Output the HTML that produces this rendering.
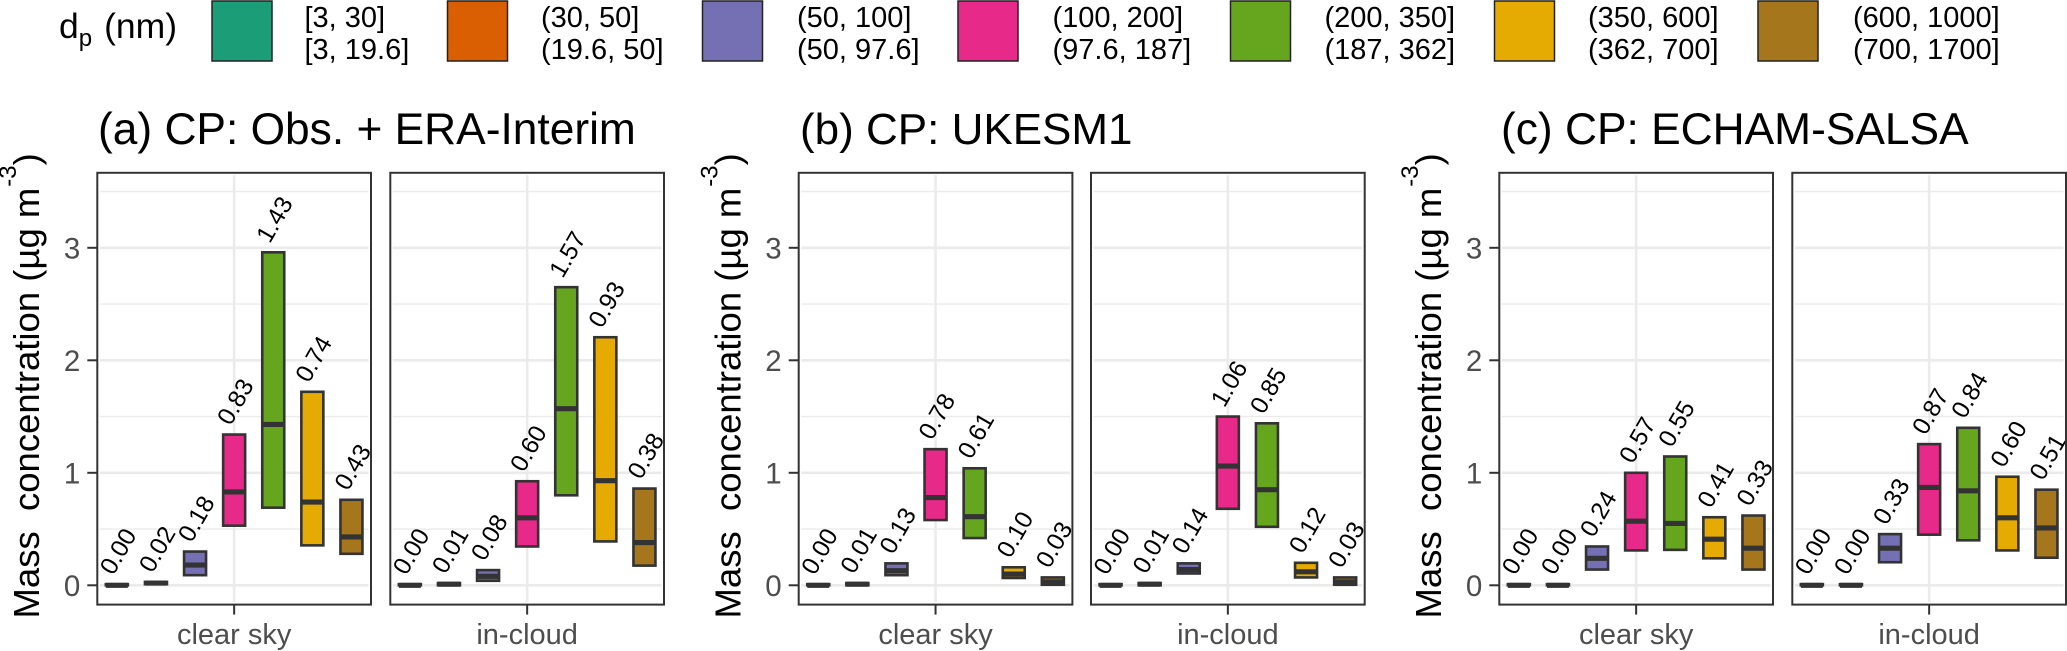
<!DOCTYPE html>
<html lang="en">
<head>
<meta charset="utf-8">
<title>Mass concentration by particle size</title>
<style>
html,body{margin:0;padding:0;background:#fff;}
svg{display:block;font-family:"Liberation Sans",Arial,sans-serif;}
</style>
</head>
<body>
<svg id="chart" xmlns="http://www.w3.org/2000/svg" width="2067" height="651" viewBox="0 0 2067 651">
  <rect width="2067" height="651" fill="#fff"/>
  <g>
    <text x="59" y="38" font-size="35.5" fill="#000">d<tspan font-size="24" dy="8">p</tspan><tspan dy="-8" dx="12">(nm)</tspan></text>
    <g id="legend-items"></g>
  </g>
  <text x="98" y="144" font-size="44.3" fill="#000">(a) CP: Obs. + ERA-Interim</text>
  <text x="800" y="144" font-size="44" fill="#000">(b) CP: UKESM1</text>
  <text x="1501" y="144" font-size="44.3" fill="#000">(c) CP: ECHAM-SALSA</text>
  <g id="plots"></g>
</svg>
<script>
const sizeBins = ['[3, 30]','(30, 50]','(50, 100]','(100, 200]','(200, 350]','(350, 600]','(600, 1000]'];
const sizeBinsModel = ['[3, 19.6]','(19.6, 50]','(50, 97.6]','(97.6, 187]','(187, 362]','(362, 700]','(700, 1700]'];
const binColors = ['#1B9E77','#D95F02','#7570B3','#E7298A','#66A61E','#E6AB02','#A6761D'];
const panelNames = ['a-clear-sky','a-in-cloud','b-clear-sky','b-in-cloud','c-clear-sky','c-in-cloud'];
const conditionLabels = ['clear sky','in-cloud','clear sky','in-cloud','clear sky','in-cloud'];
const yMajorTicks = [0,1,2,3];
const yMinorTicks = [0.5,1.5,2.5,3.5];

const medians = [
  [0.00,0.02,0.18,0.83,1.43,0.74,0.43],
  [0.00,0.01,0.08,0.60,1.57,0.93,0.38],
  [0.00,0.01,0.13,0.78,0.61,0.10,0.03],
  [0.00,0.01,0.14,1.06,0.85,0.12,0.03],
  [0.00,0.00,0.24,0.57,0.55,0.41,0.33],
  [0.00,0.00,0.33,0.87,0.84,0.60,0.51]
];
const lowerQuartiles = [
  [0.00,0.01,0.09,0.53,0.69,0.355,0.28],
  [0.00,0.00,0.04,0.345,0.80,0.39,0.175],
  [0.00,0.00,0.09,0.58,0.42,0.065,0.005],
  [0.00,0.00,0.105,0.68,0.52,0.07,0.005],
  [0.00,0.00,0.14,0.31,0.315,0.24,0.14],
  [0.00,0.00,0.205,0.45,0.40,0.31,0.245]
];
const upperQuartiles = [
  [0.01,0.03,0.30,1.34,2.96,1.72,0.76],
  [0.01,0.02,0.135,0.925,2.65,2.205,0.86],
  [0.01,0.02,0.195,1.21,1.04,0.16,0.07],
  [0.01,0.02,0.195,1.50,1.44,0.20,0.07],
  [0.01,0.01,0.345,1.00,1.145,0.605,0.62],
  [0.01,0.01,0.455,1.255,1.40,0.965,0.85]
];

const NS = 'http://www.w3.org/2000/svg';
const panelLefts = [97.3,390.3,798.7,1091,1499.3,1792.3];
const panelWidth = 273.7, panelTop = 172.8, panelBottom = 604.6;
const catStep = 39.1, boxWidth = 22;
function yScale(v){ return 585.3 - 112.5 * v; }
function xScale(p, i){ return panelLefts[p] + panelWidth / 2 + (i - 3) * catStep; }
function make(tag, attrs, parent){
  const el = document.createElementNS(NS, tag);
  for (const k in attrs) el.setAttribute(k, attrs[k]);
  parent.appendChild(el);
  return el;
}

/* legend */
const legendItems = document.getElementById('legend-items');
const swatchXs = [212,447.5,702.5,958,1230.5,1494.5,1758];
const legendTextXs = [304.5,541,797,1052.5,1324.5,1588,1853];
sizeBins.forEach(function(bin, i){
  const sw = make('rect', {x:swatchXs[i], y:1, width:60, height:60, fill:binColors[i], stroke:'#222', 'stroke-width':1.5}, legendItems);
  
  
  const t1 = make('text', {x:legendTextXs[i], y:27, 'font-size':29, fill:'#000'}, legendItems);
  t1.textContent = bin;
  
  
  const t2 = make('text', {x:legendTextXs[i], y:59, 'font-size':29, fill:'#000'}, legendItems);
  t2.textContent = sizeBinsModel[i];
  
  
});

/* panels */
const plots = document.getElementById('plots');
panelNames.forEach(function(name, p){
  const L = panelLefts[p], R = L + panelWidth, C = L + panelWidth / 2;
  const g = make('g', {}, plots);
  
  

  yMinorTicks.forEach(function(v){
    const ln = make('line', {x1:L+2.5, x2:R-2.5, y1:yScale(v), y2:yScale(v), stroke:'#ebebeb', 'stroke-width':1.3}, g);
    
    
  });
  yMajorTicks.forEach(function(v){
    const ln = make('line', {x1:L+2.5, x2:R-2.5, y1:yScale(v), y2:yScale(v), stroke:'#ebebeb', 'stroke-width':2.6}, g);
    
    
  });
  const vg = make('line', {x1:C, x2:C, y1:panelTop+2.5, y2:panelBottom-2.5, stroke:'#ebebeb', 'stroke-width':2.6}, g);
  
  

  sizeBins.forEach(function(bin, i){
    const x = xScale(p, i), yHi = yScale(upperQuartiles[p][i]), yLo = yScale(lowerQuartiles[p][i]), yMed = yScale(medians[p][i]);
    const box = make('rect', {x:x-boxWidth/2, y:yHi, width:boxWidth, height:yLo-yHi, fill:binColors[i], stroke:'#333', 'stroke-width':2.6}, g);
    
    
    const med = make('line', {x1:x-boxWidth/2, x2:x+boxWidth/2, y1:yMed, y2:yMed, stroke:'#333', 'stroke-width':5.2}, g);
    
    
  });

  sizeBins.forEach(function(bin, i){
    const x = xScale(p, i) - 3.5, y = yScale(upperQuartiles[p][i]) - 8;
    const lab = make('text', {x:x, y:y, 'font-size':24.5, fill:'#000', transform:'rotate(-60 ' + x + ' ' + y + ')'}, g);
    lab.textContent = medians[p][i].toFixed(2);
    
    
  });

  const border = make('rect', {x:L, y:panelTop, width:panelWidth, height:panelBottom-panelTop, fill:'none', stroke:'#333', 'stroke-width':2}, g);
  
  

  const tick = make('line', {x1:C, x2:C, y1:panelBottom, y2:panelBottom+10, stroke:'#333', 'stroke-width':2}, g);
  
  
  const xl = make('text', {x:C, y:644, 'font-size':29, fill:'#4d4d4d', 'text-anchor':'middle'}, g);
  xl.textContent = conditionLabels[p];
  
  

  if (p % 2 === 0) {
    yMajorTicks.forEach(function(v){
      const t = make('line', {x1:L-10, x2:L, y1:yScale(v), y2:yScale(v), stroke:'#333', 'stroke-width':2}, g);
      
      
      const tl = make('text', {x:L-17, y:yScale(v)+10.5, 'font-size':29.5, fill:'#4d4d4d', 'text-anchor':'end'}, g);
      tl.textContent = String(v);
      
      
    });
    const tx = L - 58.3, ty = 618.5;
    const title = make('text', {x:tx, y:ty, 'font-size':36.5, fill:'#000', transform:'rotate(-90 ' + tx + ' ' + ty + ')', style:'white-space:pre'}, g);
    
    
    const part1 = make('tspan', {}, title);
    part1.textContent = 'Mass  concentration (\u00B5g m';
    const part2 = make('tspan', {'font-size':24, dy:-23, dx:1}, title);
    part2.textContent = '-3';
    const part3 = make('tspan', {dy:23}, title);
    part3.textContent = ')';
  }
});
</script>
</body>
</html>
